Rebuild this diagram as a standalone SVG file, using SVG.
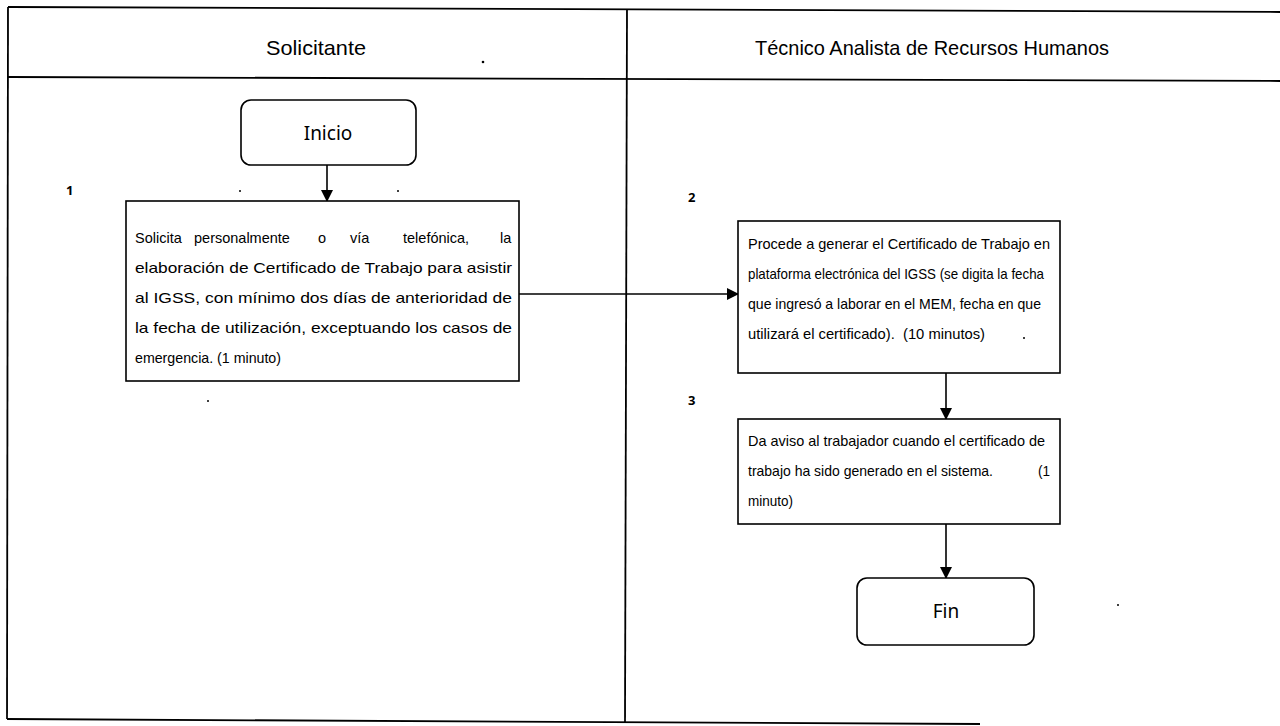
<svg xmlns="http://www.w3.org/2000/svg" width="1280" height="726" viewBox="0 0 1280 726">
<style>
.frame{stroke:#000;stroke-width:1.8;fill:none}
.box{stroke:#000;stroke-width:1.6;fill:#fff}
.conn{stroke:#000;stroke-width:1.6;fill:none}
.lane{font-family:"Liberation Sans",Arial,sans-serif;font-size:21px;fill:#000}
.term{font-family:"Noto Sans","Open Sans",sans-serif;font-size:19px;fill:#000}
.txt{font-family:"Liberation Sans",Arial,sans-serif;font-size:14.5px;fill:#000}
.num{font-family:"Noto Sans","Open Sans",sans-serif;font-size:13px;font-weight:bold;fill:#000}
</style>
<defs>
<marker id="arr" viewBox="0 0 12 12" refX="11" refY="6" markerWidth="12" markerHeight="12" markerUnits="userSpaceOnUse" orient="auto">
<path d="M0,0 L12,6 L0,12 Z" fill="#000"/>
</marker>
</defs>
<rect width="1280" height="726" fill="#fff"/>
<g id="frame">
<line class="frame" x1="8" y1="7" x2="1280" y2="12"/>
<line class="frame" x1="8" y1="77" x2="1280" y2="81"/>
<line class="frame" x1="8" y1="7" x2="7" y2="719"/>
<line class="frame" x1="7" y1="719" x2="980" y2="724"/>
<line class="frame" x1="627" y1="9" x2="625" y2="722"/>
</g>
<g id="lane-solicitante"><text class="lane" x="316" y="55" text-anchor="middle" textLength="100" lengthAdjust="spacingAndGlyphs">Solicitante</text></g>
<g id="lane-tecnico"><text class="lane" x="932" y="55" text-anchor="middle" textLength="354" lengthAdjust="spacingAndGlyphs">Técnico Analista de Recursos Humanos</text></g>
<g id="connectors">
<line class="conn" x1="327" y1="165" x2="327" y2="201" marker-end="url(#arr)"/>
<line class="conn" x1="519" y1="294" x2="738" y2="294" marker-end="url(#arr)"/>
<line class="conn" x1="946" y1="373" x2="946" y2="419" marker-end="url(#arr)"/>
<line class="conn" x1="946" y1="524" x2="946" y2="578" marker-end="url(#arr)"/>
</g>
<g id="inicio">
<rect class="box" x="241" y="100" width="175" height="65" rx="10"/>
<text class="term" x="328" y="140" text-anchor="middle">Inicio</text>
</g>
<g id="step1">
<text class="num" x="66" y="195">1</text>
<rect class="box" x="126" y="201" width="393" height="180"/>
<text class="txt" y="243"><tspan x="135">Solicita</tspan><tspan x="194">personalmente</tspan><tspan x="318">o</tspan><tspan x="350">vía</tspan><tspan x="403">telefónica,</tspan><tspan x="500">la</tspan></text>
<text class="txt" x="135" y="273" textLength="377" lengthAdjust="spacingAndGlyphs">elaboración de Certificado de Trabajo para asistir</text>
<text class="txt" x="135" y="303" textLength="377" lengthAdjust="spacingAndGlyphs">al IGSS, con mínimo dos días de anterioridad de</text>
<text class="txt" x="135" y="333" textLength="377" lengthAdjust="spacingAndGlyphs">la fecha de utilización, exceptuando los casos de</text>
<text class="txt" x="135" y="363" textLength="146" lengthAdjust="spacingAndGlyphs">emergencia. (1 minuto)</text>
</g>
<g id="step2">
<text class="num" x="688" y="202">2</text>
<rect class="box" x="738" y="221" width="322" height="152"/>
<text class="txt" x="748" y="249" textLength="302" lengthAdjust="spacingAndGlyphs">Procede a generar el Certificado de Trabajo en</text>
<text class="txt" x="748" y="279" textLength="296" lengthAdjust="spacingAndGlyphs">plataforma electrónica del IGSS (se digita la fecha</text>
<text class="txt" x="748" y="309" textLength="293" lengthAdjust="spacingAndGlyphs">que ingresó a laborar en el MEM, fecha en que</text>
<text class="txt" x="748" y="339" xml:space="preserve" textLength="237" lengthAdjust="spacingAndGlyphs">utilizará el certificado).  (10 minutos)</text>
</g>
<g id="step3">
<text class="num" x="688" y="405">3</text>
<rect class="box" x="738" y="419" width="322" height="105"/>
<text class="txt" x="748" y="446" textLength="297" lengthAdjust="spacingAndGlyphs">Da aviso al trabajador cuando el certificado de</text>
<text class="txt" x="748" y="476" textLength="245" lengthAdjust="spacingAndGlyphs">trabajo ha sido generado en el sistema.</text>
<text class="txt" x="1038" y="476" textLength="12" lengthAdjust="spacingAndGlyphs">(1</text>
<text class="txt" x="748" y="506" textLength="45" lengthAdjust="spacingAndGlyphs">minuto)</text>
</g>
<g id="fin">
<rect class="box" x="857" y="578" width="177" height="67" rx="10"/>
<text class="term" x="946" y="618" text-anchor="middle">Fin</text>
</g>
<g id="specks" fill="#000">
<circle cx="483" cy="62" r="1.3"/>
<circle cx="240" cy="191" r="1"/>
<circle cx="398" cy="191" r="1"/>
<circle cx="208" cy="401" r="1"/>
<circle cx="1118" cy="605" r="1"/>
<circle cx="1024" cy="338" r="1"/>
</g>
</svg>
